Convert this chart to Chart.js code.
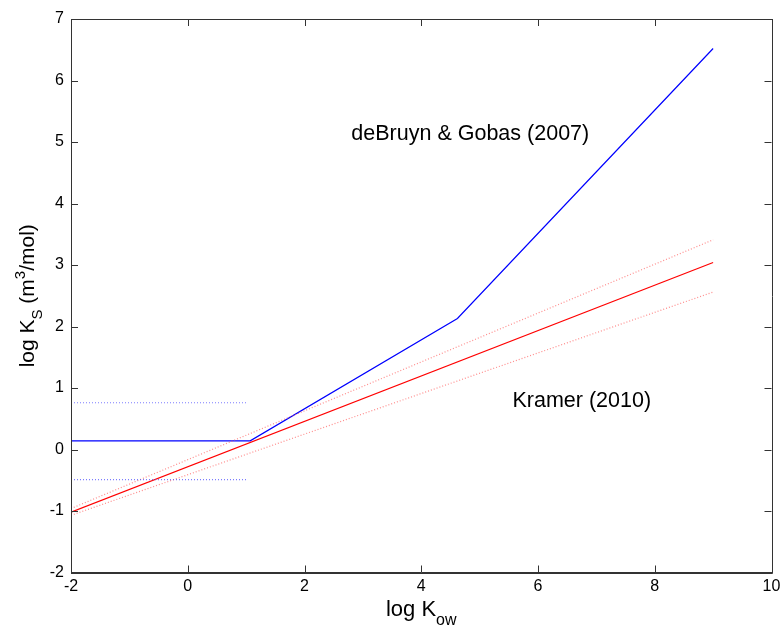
<!DOCTYPE html>
<html>
<head>
<meta charset="utf-8">
<script src="https://cdn.jsdelivr.net/npm/chart.js@4"></script>
<style>
  html, body { margin: 0; padding: 0; background: #fff; }
  #wrap { width: 780px; height: 626px; }
</style>
</head>
<body>
<div id="wrap"><canvas id="myChart" width="780" height="626"></canvas></div>
<script>
// deBruyn & Gobas (2007)
let gobasX = [-2, 1.07, 4.62, 9];
let gobasY = [0.14, 0.14, 2.13, 6.52];
let gobasBandX = [-2, 1.0];
let gobasUpperY = [0.76, 0.76];
let gobasLowerY = [-0.49, -0.49];

// Kramer (2010)
let kramerX = [-2, 9];
let kramerY = [-1.02, 3.04];
let kramerUpperY = [-0.96, 3.41];
let kramerLowerY = [-1.07, 2.56];

let xTicks = [-2, 0, 2, 4, 6, 8, 10];
let yTicks = [-2, -1, 0, 1, 2, 3, 4, 5, 6, 7];

let notes = [
    { text: "deBruyn & Gobas (2007)", x: 4.84, y: 5.13 },
    { text: "Kramer (2010)", x: 6.75, y: 0.79 }
];

function pts(xs, ys)
{
    return xs.map((x, i) => ({ x: x, y: ys[i] }));
}

const FONT = "'Liberation Sans', Arial, sans-serif";
const AXIS = '#333333';

function drawRich(ctx, parts, size)
{
    // parts drawn left to right, centred on 0, baseline at 0
    let w = 0;
    parts.forEach(p => {
        ctx.font = (p.m == 'n' ? size : Math.round(size * 0.72)) + 'px ' + FONT;
        p.w = ctx.measureText(p.t).width;
        w += p.w;
    });
    let x = -w / 2;
    parts.forEach(p => {
        ctx.font = (p.m == 'n' ? size : Math.round(size * 0.72)) + 'px ' + FONT;
        let dy = p.m == 'sub' ? size * 0.4 : (p.m == 'sup' ? -size * 0.42 : 0);
        ctx.fillText(p.t, x, dy);
        x += p.w;
    });
}

const boxPlugin = {
    id: 'box',
    afterDraw(chart)
    {
        let ctx = chart.ctx;
        let a = chart.chartArea;
        let xs = chart.scales.x, ys = chart.scales.y;
        ctx.save();
        ctx.strokeStyle = AXIS;
        ctx.lineWidth = 1;
        ctx.beginPath();
        ctx.rect(Math.round(a.left) + 0.5, Math.round(a.top) + 0.5,
                 Math.round(a.right - a.left), Math.round(a.bottom - a.top));
        // inner ticks
        const len = 7;
        xTicks.forEach(v => {
            let px = Math.round(xs.getPixelForValue(v)) + 0.5;
            ctx.moveTo(px, a.bottom); ctx.lineTo(px, a.bottom - len);
            ctx.moveTo(px, a.top); ctx.lineTo(px, a.top + len);
        });
        yTicks.forEach(v => {
            let py = Math.round(ys.getPixelForValue(v)) + 0.5;
            ctx.moveTo(a.left, py); ctx.lineTo(a.left + len, py);
            ctx.moveTo(a.right, py); ctx.lineTo(a.right - len, py);
        });
        ctx.stroke();

        ctx.fillStyle = '#000';
        ctx.textBaseline = 'alphabetic';
        ctx.textAlign = 'left';

        // x title
        ctx.save();
        ctx.translate((a.left + a.right) / 2, 616);
        drawRich(ctx, [{ t: 'log K', m: 'n' }, { t: 'ow', m: 'sub' }], 22);
        ctx.restore();

        // y title
        ctx.save();
        ctx.translate(34, (a.top + a.bottom) / 2);
        ctx.rotate(-Math.PI / 2);
        drawRich(ctx, [
            { t: 'log K', m: 'n' }, { t: 'S', m: 'sub' },
            { t: ' (m', m: 'n' }, { t: '3', m: 'sup' }, { t: '/mol)', m: 'n' }
        ], 21);
        ctx.restore();

        // annotations
        ctx.font = '21.5px ' + FONT;
        ctx.textAlign = 'center';
        ctx.textBaseline = 'middle';
        notes.forEach(n => {
            ctx.fillText(n.text, xs.getPixelForValue(n.x), ys.getPixelForValue(n.y));
        });
        ctx.restore();
    }
};

function createChart()
{
    new Chart(document.getElementById('myChart'),
        {
            type: 'line',
            data:
            {
                datasets: [
                    { data: pts(gobasBandX, gobasUpperY), borderColor: 'rgba(80,80,255,0.75)', borderDash: [1, 2] },
                    { data: pts(gobasBandX, gobasLowerY), borderColor: 'rgba(80,80,255,0.75)', borderDash: [1, 2] },
                    { data: pts(kramerX, kramerUpperY), borderColor: 'rgba(255,90,90,0.7)', borderDash: [1, 2] },
                    { data: pts(kramerX, kramerLowerY), borderColor: 'rgba(255,90,90,0.7)', borderDash: [1, 2] },
                    { data: pts(kramerX, kramerY), borderColor: '#ff0000' },
                    { data: pts(gobasX, gobasY), borderColor: '#0000ff' }
                ]
            },
            options:
            {
                responsive: false,
                animation: false,
                layout: { padding: { top: 19, right: 8.5, left: 0, bottom: 0 } },
                elements: {
                    point: { radius: 0 },
                    line: { borderWidth: 1.2, tension: 0 }
                },
                plugins: {
                    legend: { display: false },
                    tooltip: { enabled: false }
                },
                scales: {
                    x: {
                        type: 'linear',
                        min: -2, max: 10,
                        afterBuildTicks: s => { s.ticks = xTicks.map(v => ({ value: v })); },
                        afterFit: s => { s.height = 53.5; s.paddingLeft = 0; s.paddingRight = 0; },
                        ticks: { color: '#000', font: { family: FONT, size: 16 }, padding: 4 },
                        grid: { drawOnChartArea: false, drawTicks: false },
                        border: { color: AXIS }
                    },
                    y: {
                        type: 'linear',
                        min: -2, max: 7,
                        afterBuildTicks: s => { s.ticks = yTicks.map(v => ({ value: v })); },
                        afterFit: s => { s.width = 71; s.paddingTop = 0; s.paddingBottom = 0; },
                        ticks: { color: '#000', font: { family: FONT, size: 16 }, padding: 7 },
                        grid: { drawOnChartArea: false, drawTicks: false },
                        border: { color: AXIS }
                    }
                }
            },
            plugins: [boxPlugin]
        });
}

createChart();
</script>
</body>
</html>
